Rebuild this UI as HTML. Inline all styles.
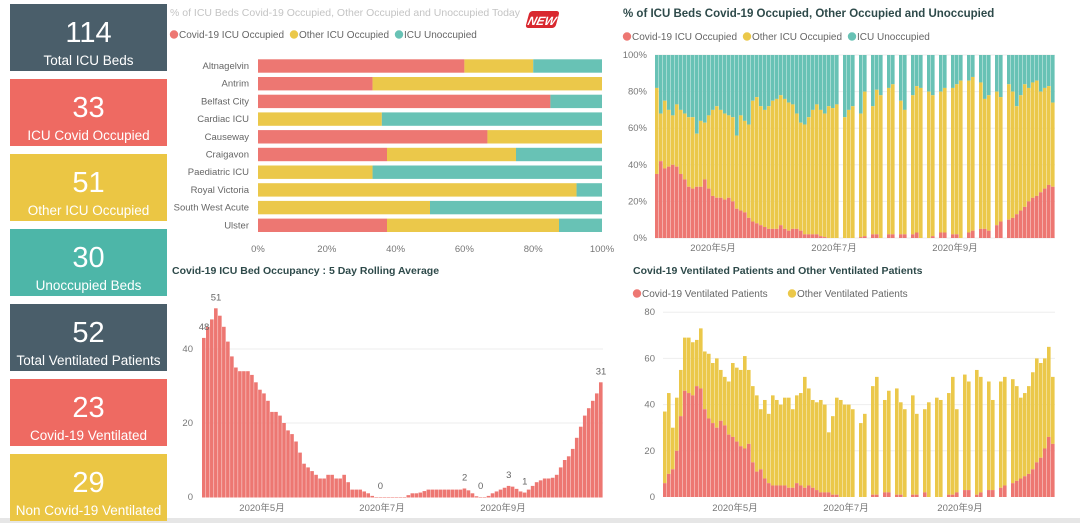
<!DOCTYPE html>
<html><head><meta charset="utf-8">
<style>
body{margin:0;width:1080px;height:523px;overflow:hidden;background:#fff;font-family:"Liberation Sans","Noto Sans CJK SC",sans-serif;}
svg text{font-family:"Liberation Sans","Noto Sans CJK SC",sans-serif;}
</style></head>
<body>
<svg id="s" width="1080" height="523" viewBox="0 0 1080 523" xmlns="http://www.w3.org/2000/svg">
<rect x="0" y="518" width="1080" height="5" fill="#e6e6e6"/>
<g id="cards"></g>
<text x="170" y="16" font-size="10.5" fill="#c4c4c4">% of ICU Beds Covid-19 Occupied, Other Occupied and Unoccupied Today</text>
<g transform="translate(530,10) skewX(-15)"><rect x="0" y="1" width="30" height="17" fill="#d9282f" rx="3"/><text x="15" y="15" font-size="12" font-style="italic" font-weight="bold" fill="#fff" text-anchor="middle">NEW</text></g>
<g id="g1"></g><g id="g2"></g><g id="g3"></g><g id="g4"></g>
<text x="623" y="17" font-size="11.5" font-weight="bold" fill="#2e4a4a">% of ICU Beds Covid-19 Occupied, Other Occupied and Unoccupied</text>
<text x="172" y="274" font-size="10.5" font-weight="bold" fill="#2e4a4a">Covid-19 ICU Bed Occupancy : 5 Day Rolling Average</text>
<text x="633" y="274" font-size="10.5" font-weight="bold" fill="#2e4a4a">Covid-19 Ventilated Patients and Other Ventilated Patients</text>
</svg>
<script>
const RED='#ed7772',YEL='#ebc84a',TEAL='#68c2b5';
const cardValues=['114','33','51','30','52','23','29'];
const cardLabels=['Total ICU Beds','ICU Covid Occupied','Other ICU Occupied','Unoccupied Beds','Total Ventilated Patients','Covid-19 Ventilated','Non Covid-19 Ventilated'];
const cardColors=['#4a5e6a','#ee6a62','#ebc644','#4db6a8','#4a5e6a','#ee6a62','#ebc644'];
const hospitals=['Altnagelvin','Antrim','Belfast City','Cardiac ICU','Causeway','Craigavon','Paediatric ICU','Royal Victoria','South West Acute','Ulster'];
const hospCovid=[60,33.3,85,0,66.7,37.5,0,0,0,37.5];
const hospOther=[20,66.7,0,36,33.3,37.5,33.3,92.6,50,50];
const pctTicks=[0,20,40,60,80,100];
const pctCovid=[35,42,38,39,40,39,35,32,28,27,28,28,32,27,23,22,22,21,22,20,16,15,14,11,9,8,7,6,5,5,5,7,5,4,5,5,4,2,2,2,2,1,0.5,0,0,0,null,0,0,0,null,0.5,1,null,2,2,0,null,2,2,null,2,2,null,2,3,0,null,0,1,null,3,3,null,2,2,0,null,3,4,null,5,5,4,null,7,9,null,10,11,13,15,17,20,22,23,25,27,29,28];
const pctOther=[47,26,37,31,27,34,35,36,38,39,29,36,31,40,47,50,48,47,45,46,40,52,50,51,66,69,65,64,67,70,71,71,71,70,68,63,59,60,64,68,71,69,67.5,72,71,73,null,66,70,72,null,67.5,79,null,70,79,78,null,80,82,null,73,68,null,76,80,82,null,80,77,null,77,79,null,80,82,86,null,83,84,null,80,71,74,null,73,68,null,74,69,59,63,67,62,63,63,55,55,54,46];
const monthLabels=['2020年5月','2020年7月','2020年9月'];
const rolling=[43,46,48,51,49,46,42,38,35,34,34,34,33,31,29,28,26,23,23,22,20,18,17,15,12,9,8,7,6,5,5,6,6,5,5,6,4,2,2,2,1.5,1,0.3,0,0,0,0,0,0,0,0,0.5,1,1,1.2,1.6,2,2,2,2,2,2,2,2,2,2.3,1.8,1,0.2,0,0,0.3,1,1.5,2,2.5,3,2.8,2.2,1.5,1.2,2,3,4,4.5,5,5,5.2,6,8,10,11,13,16,19,22,24,26,28,31];
const rollTicks=[0,20,40];
const ventCovid=[6,10,12,20,35,46,45,44,48,47,38,34,32,30,33,31,27,26,24,22,21,23,15,11,12,8,6,5,5,5,5,4,4,6,5,4,5,4,3,2,2,2,1,1,0,0,0,0,null,0,0,null,1,1,null,2,2,null,1,1,0,null,1,1,null,2,0,null,0,0,null,1,1,2,null,3,3,null,1,2,null,3,3,null,4,5,null,6,7,8,9,10,12,15,17,21,26,23];
const ventOther=[31,35,18,23,20,23,24,23,20,26,25,28,26,30,22,21,23,32,32,33,40,32,33,33,26,34,30,39,37,35,38,39,34,38,40,48,42,38,38,40,38,26,34,42,42,40,40,38,null,32,36,null,47,51,null,40,44,null,46,40,38,null,43,35,null,36,41,null,43,42,null,44,51,36,null,50,47,null,54,50,null,47,39,null,46,47,null,45,41,35,36,38,42,45,41,39,39,29];
const ventTicks=[0,20,40,60,80];

const NS='http://www.w3.org/2000/svg';
function mk(parent,tag,attrs,txt){const e=document.createElementNS(NS,tag);for(const k in attrs)e.setAttribute(k,attrs[k]);if(txt!==undefined)e.textContent=txt;parent.appendChild(e);return e;}

const cg=document.getElementById('cards');
cardValues.forEach((v,i)=>{
  const y=4+i*75;
  const g=mk(cg,'g',{});
  
  
  mk(g,'rect',{x:10,y:y,width:157,height:67,fill:cardColors[i]});
  const t=mk(g,'text',{x:88.5,y:y+38,'font-size':29,fill:'#fff','text-anchor':'middle'},v);
  
  
  const l=mk(g,'text',{x:88.5,y:y+61,'font-size':13.5,fill:'#fff','text-anchor':'middle'},cardLabels[i]);
  
  
});

function legend(parent,x,y,items,fs){
  let cx=x;
  items.forEach(([c,t])=>{
    const g=mk(parent,'g',{});
    
    
    mk(g,'circle',{cx:cx+4,cy:y-3.5,r:4.2,fill:c});
    mk(g,'text',{x:cx+9,y:y,'font-size':fs,fill:'#666'},t);
    cx+=9+t.length*fs*0.5+6;
  });
}

(function(){
  const g=document.getElementById('g1');
  
  
  legend(g,170,38,[[RED,'Covid-19 ICU Occupied'],[YEL,'Other ICU Occupied'],[TEAL,'ICU Unoccupied']],10);
  const x0=258,x1=602;const xs=v=>x0+(x1-x0)*v/100;
  pctTicks.forEach(t=>{const e=mk(g,'text',{x:xs(t),y:252,'font-size':9.5,fill:'#777','text-anchor':'middle'},t+'%');});
  hospitals.forEach((h,i)=>{
    const cy=66+i*17.7;
    const lb=mk(g,'text',{x:249,y:cy+3,'font-size':9.5,fill:'#666','text-anchor':'end'},h);
    
    
    const c=hospCovid[i],o=hospOther[i];
    const segs=[[0,c,RED],[c,c+o,YEL],[c+o,100,TEAL]];
    segs.forEach(([a,b,col])=>{if(b>a){const r=mk(g,'rect',{x:xs(a),y:cy-6.7,width:xs(b)-xs(a),height:13.4,fill:col});}});
  });
})();

(function(){
  const g=document.getElementById('g2');
  
  
  legend(g,623,40,[[RED,'Covid-19 ICU Occupied'],[YEL,'Other ICU Occupied'],[TEAL,'ICU Unoccupied']],10);
  const x0=655,step=4,y0=238,y1=55;const ys=v=>y0-(y0-y1)*v/100;
  pctTicks.forEach(t=>{mk(g,'line',{x1:655,x2:1055,y1:ys(t),y2:ys(t),stroke:'#eee'});const e=mk(g,'text',{x:647,y:ys(t)+3,'font-size':9.5,fill:'#777','text-anchor':'end'},t+'%');});
  pctCovid.forEach((c,i)=>{
    if(c===null)return;const o=pctOther[i];const x=x0+i*step;
    const b=mk(g,'g',{});
    
    
    mk(b,'rect',{x:x,y:ys(100),width:3.6,height:ys(c+o)-ys(100),fill:TEAL});
    mk(b,'rect',{x:x,y:ys(c+o),width:3.6,height:ys(c)-ys(c+o),fill:YEL});
    mk(b,'rect',{x:x,y:ys(c),width:3.6,height:y0-ys(c),fill:RED});
  });
  [713,834,955].forEach((x,i)=>{const e=mk(g,'text',{x:x,y:251,'font-size':9.5,fill:'#777','text-anchor':'middle'},monthLabels[i]);});
})();

(function(){
  const g=document.getElementById('g3');
  
  
  const x0=202,step=4.01,y0=497,per=3.7;const ys=v=>y0-v*per;
  rollTicks.forEach(t=>{if(t>0)mk(g,'line',{x1:202,x2:603,y1:ys(t),y2:ys(t),stroke:'#eee'});const e=mk(g,'text',{x:193,y:ys(t)+3,'font-size':9.5,fill:'#777','text-anchor':'end'},t);});
  rolling.forEach((v,i)=>{const r=mk(g,'rect',{x:x0+i*step,y:ys(v),width:3.6,height:v*per+0.5,fill:RED});});
  const lbls=[[3,'51'],[0,'48'],[44,'0'],[65,'2'],[69,'0'],[76,'3'],[80,'1'],[99,'31']];
  lbls.forEach(([i,t])=>{const e=mk(g,'text',{x:x0+i*step+2,y:ys(rolling[i])-8,'font-size':9.5,fill:'#666','text-anchor':'middle'},t);});
  [262,382,503].forEach((x,i)=>{const e=mk(g,'text',{x:x,y:511,'font-size':9.5,fill:'#777','text-anchor':'middle'},monthLabels[i]);});
})();

(function(){
  const g=document.getElementById('g4');
  
  
  legend(g,633,297,[[RED,'Covid-19 Ventilated Patients'],[YEL,'Other Ventilated Patients']],10);
  const x0=663,step=4,y0=497,per=2.31;const ys=v=>y0-v*per;
  ventTicks.forEach(t=>{if(t>0)mk(g,'line',{x1:663,x2:1055,y1:ys(t),y2:ys(t),stroke:'#eee'});const e=mk(g,'text',{x:655,y:ys(t)+3,'font-size':9.5,fill:'#777','text-anchor':'end'},t);});
  ventCovid.forEach((c,i)=>{
    if(c===null)return;const o=ventOther[i];const x=x0+i*step;
    const b=mk(g,'g',{});
    
    
    mk(b,'rect',{x:x,y:ys(c+o),width:3.6,height:o*per,fill:YEL});
    mk(b,'rect',{x:x,y:ys(c),width:3.6,height:c*per,fill:RED});
  });
  [735,846,960].forEach((x,i)=>{const e=mk(g,'text',{x:x,y:511,'font-size':9.5,fill:'#777','text-anchor':'middle'},monthLabels[i]);});
})();
</script>
</body></html>
